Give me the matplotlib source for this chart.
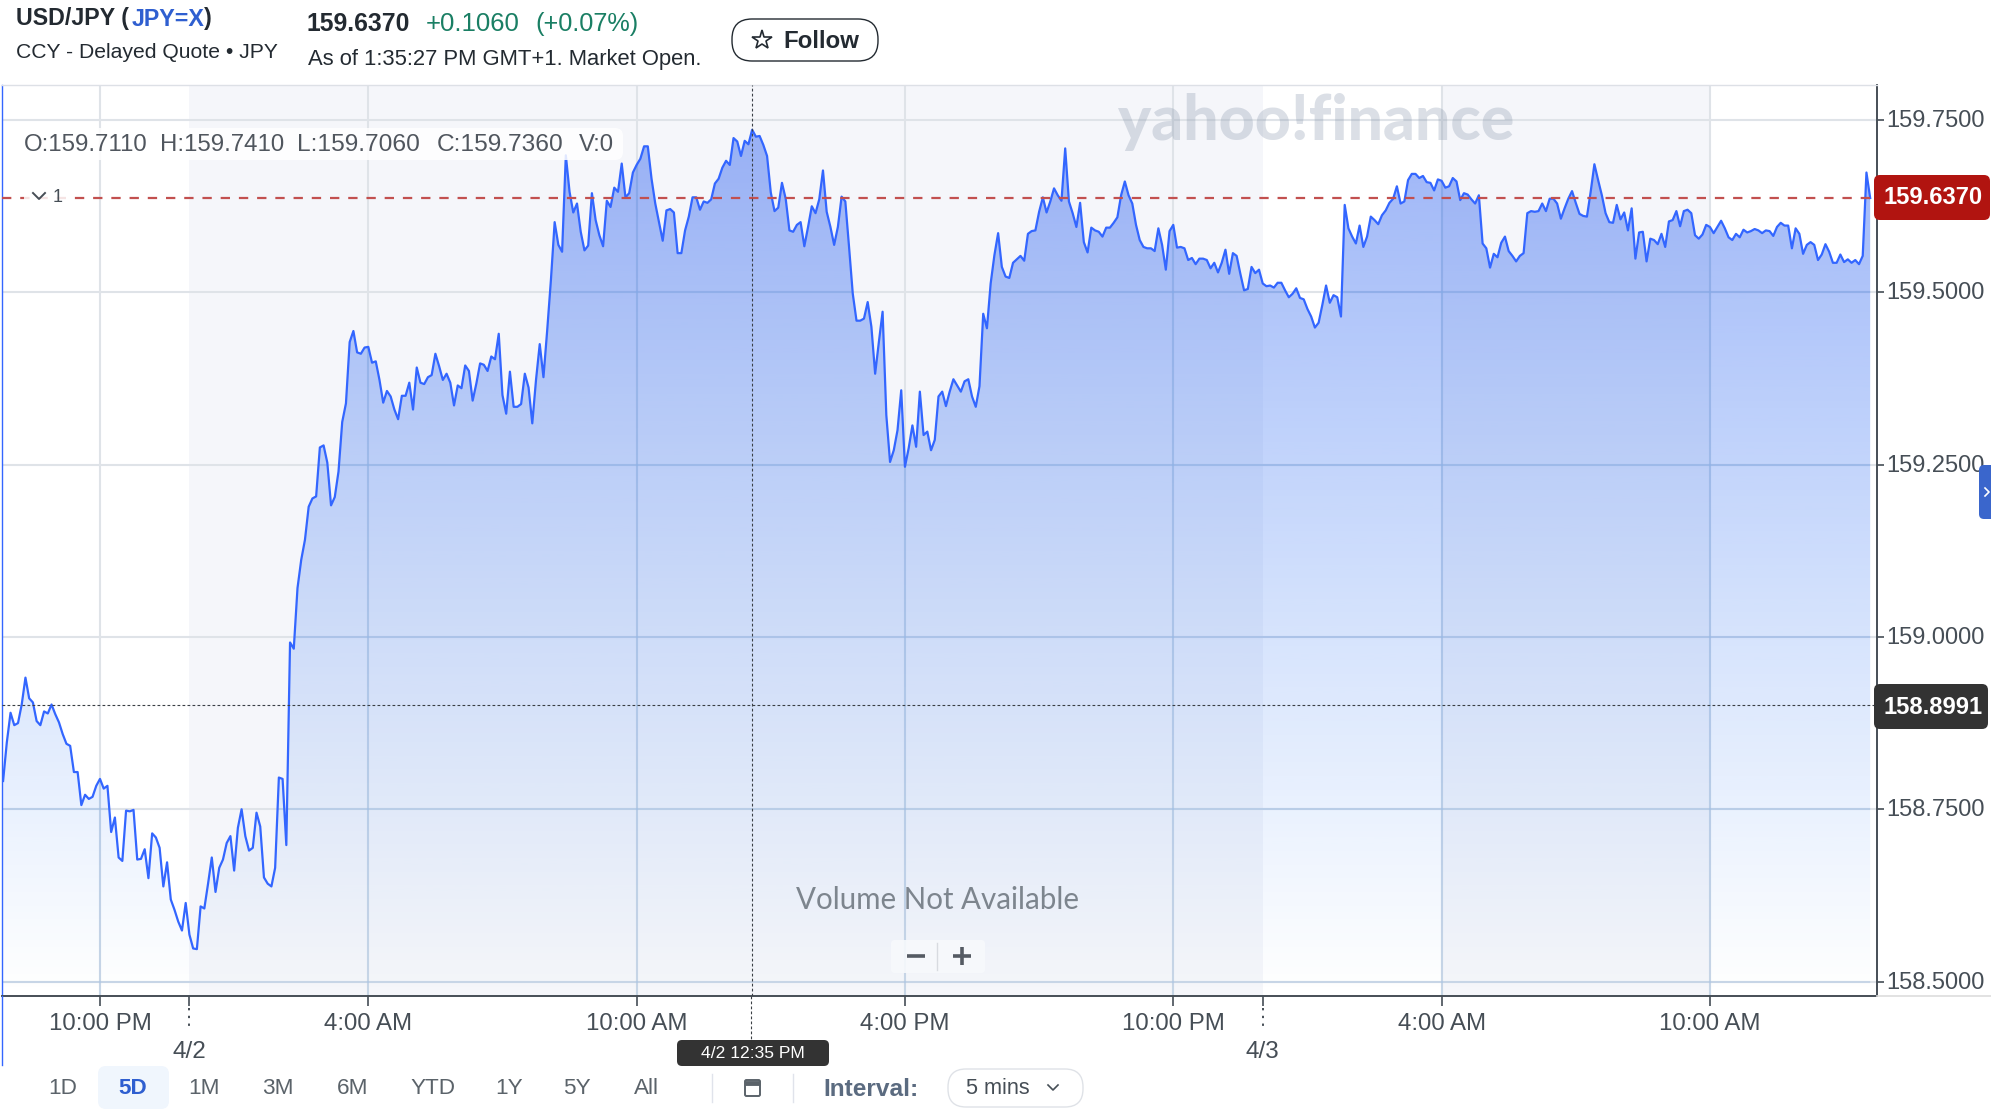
import numpy as np
import matplotlib
matplotlib.use("Agg")
import matplotlib.pyplot as plt
from matplotlib.patches import FancyBboxPatch
from matplotlib.transforms import ScaledTranslation

plt.rcParams["font.family"] = ["Liberation Sans", "DejaVu Sans"]

# --------------------------
# DATA (5 minute closes)
# --------------------------
close_apr1_evening = [
    158.791, 158.847, 158.890, 158.872, 158.875, 158.902, 158.941, 158.911, 158.905, 158.878,
    158.872, 158.892, 158.889, 158.902, 158.888, 158.876, 158.859, 158.845, 158.842, 158.804,
    158.804, 158.756, 158.771, 158.765, 158.768, 158.784, 158.794, 158.780, 158.784, 158.717,
    158.738, 158.680, 158.675, 158.748, 158.747, 158.749, 158.677, 158.678, 158.692, 158.650,
    158.715, 158.709, 158.694, 158.638, 158.673, 158.619, 158.604, 158.587, 158.574, 158.614,
    158.568, 158.548, 158.547, 158.609, 158.606, 158.642, 158.680, 158.630, 158.665, 158.677,
    158.701, 158.711, 158.661, 158.723, 158.750, 158.711, 158.690, 158.694, 158.745, 158.725,
    158.651, 158.642, 158.638, 158.665, 158.796, 158.794, 158.698,
]
close_apr2_rally = [
    158.992, 158.983, 159.071, 159.112, 159.141, 159.189, 159.201, 159.204, 159.275, 159.278,
    159.253, 159.191, 159.203, 159.240, 159.312, 159.339, 159.428, 159.444, 159.413, 159.411,
    159.420, 159.421, 159.398, 159.400, 159.373, 159.340, 159.357, 159.349, 159.330, 159.316,
    159.350, 159.350, 159.369,
]
close_apr2_day = [
    159.330, 159.391, 159.369, 159.367, 159.377, 159.380, 159.411, 159.393, 159.373, 159.382,
    159.369, 159.336, 159.365, 159.361, 159.394, 159.386, 159.343, 159.368, 159.397, 159.395,
    159.386, 159.407, 159.403, 159.440, 159.351, 159.324, 159.385, 159.334, 159.334, 159.338,
    159.382, 159.362, 159.310, 159.373, 159.425, 159.377, 159.445, 159.518, 159.602, 159.569,
    159.559, 159.699, 159.646, 159.616, 159.629, 159.588, 159.561, 159.568, 159.644, 159.605,
    159.583, 159.567, 159.633, 159.624, 159.652, 159.646, 159.687, 159.638, 159.644, 159.674,
    159.685, 159.694, 159.712, 159.712, 159.665, 159.629, 159.602, 159.575, 159.619, 159.621,
    159.616, 159.557, 159.557, 159.590, 159.610, 159.638, 159.638, 159.620, 159.632, 159.630,
    159.635, 159.658, 159.665, 159.681, 159.691, 159.685, 159.724, 159.719, 159.698, 159.720,
    159.715, 159.736, 159.726, 159.727, 159.714, 159.698, 159.645, 159.618, 159.623, 159.659,
    159.636, 159.590, 159.588, 159.598, 159.602, 159.567, 159.595, 159.625, 159.615, 159.635,
    159.677, 159.617, 159.595, 159.569, 159.595, 159.639, 159.632, 159.566, 159.498, 159.459,
    159.459, 159.462, 159.486, 159.450, 159.382, 159.428, 159.472, 159.322, 159.254, 159.271,
    159.300,
]
close_apr2_late = [
    159.358, 159.247, 159.274, 159.307, 159.276, 159.356, 159.293, 159.298, 159.271, 159.286,
    159.349, 159.356, 159.335, 159.356, 159.374, 159.365, 159.356, 159.371, 159.374, 159.349,
    159.334, 159.364, 159.469, 159.448, 159.513, 159.554, 159.586, 159.537, 159.523, 159.521,
    159.543, 159.548, 159.553, 159.546, 159.585, 159.589, 159.590, 159.617, 159.638, 159.616,
    159.632, 159.651, 159.641, 159.633, 159.709, 159.632, 159.615, 159.595, 159.630, 159.573,
    159.558, 159.594, 159.590, 159.588, 159.581, 159.594, 159.594, 159.601, 159.609, 159.641,
    159.661, 159.641, 159.629, 159.598, 159.576, 159.566, 159.564, 159.564, 159.560, 159.593,
    159.569, 159.533, 159.589, 159.598, 159.565, 159.566, 159.564, 159.547, 159.550, 159.541,
    159.549, 159.549, 159.547, 159.535, 159.543, 159.529, 159.543, 159.562, 159.527, 159.557,
    159.553, 159.527, 159.503, 159.505, 159.537, 159.528, 159.533, 159.513, 159.509, 159.510,
    159.507, 159.514, 159.514, 159.503, 159.493, 159.498, 159.506, 159.492, 159.490, 159.476,
    159.465, 159.449, 159.456, 159.482, 159.510, 159.485, 159.496, 159.493, 159.465,
]
close_apr3 = [
    159.627, 159.593, 159.581, 159.571, 159.597, 159.566, 159.581, 159.610, 159.605, 159.599,
    159.612, 159.619, 159.630, 159.636, 159.654, 159.629, 159.632, 159.663, 159.672, 159.672,
    159.666, 159.669, 159.660, 159.659, 159.648, 159.664, 159.662, 159.652, 159.654, 159.666,
    159.661, 159.634, 159.644, 159.642, 159.635, 159.629, 159.641, 159.571, 159.564, 159.536,
    159.556, 159.551, 159.572, 159.581, 159.560, 159.553, 159.545, 159.553, 159.557, 159.615,
    159.618, 159.617, 159.618, 159.629, 159.618, 159.636, 159.636, 159.629, 159.607, 159.622,
    159.636, 159.647, 159.630, 159.614, 159.611, 159.610, 159.646, 159.686, 159.663, 159.641,
    159.615, 159.602, 159.601, 159.627, 159.606, 159.616, 159.590, 159.622, 159.549, 159.587,
    159.588, 159.545, 159.578, 159.576, 159.570, 159.585, 159.566, 159.603, 159.605, 159.618,
    159.596, 159.618, 159.620, 159.615, 159.583, 159.578, 159.584, 159.598, 159.595, 159.586,
    159.595, 159.604, 159.593, 159.580, 159.576, 159.585, 159.580, 159.591, 159.587, 159.589,
    159.592, 159.590, 159.586, 159.590, 159.589, 159.582, 159.595, 159.601, 159.597, 159.597,
    159.564, 159.593, 159.585, 159.556, 159.569, 159.573, 159.569, 159.547, 159.555, 159.570,
    159.559, 159.543, 159.543, 159.555, 159.544, 159.548, 159.543, 159.547, 159.541, 159.553,
    159.674, 159.637,
]

closes = np.array(close_apr1_evening + close_apr2_rally + close_apr2_day + close_apr2_late + close_apr3)
hours = (np.arange(len(closes)) - 26) / 12  # hours after 10 PM on 4/1

y_ticks = [158.5, 158.75, 159.0, 159.25, 159.5, 159.75]
x_ticks = [0, 6, 12, 18, 24, 30, 36]
x_labels = ["10:00 PM", "4:00 AM", "10:00 AM", "4:00 PM", "10:00 PM", "4:00 AM", "10:00 AM"]
day_ticks = [2, 26]
day_labels = ["4/2", "4/3"]
closed_bands = [(2, 26), (30, 36)]
last_price = 159.637
cursor_price = 158.902
cursor_hour = 175 / 12
range_labels = ["1D", "5D", "1M", "3M", "6M", "YTD", "1Y", "5Y", "All"]

W, H = 1991, 1112
GREY = "#464e56"
BLUE = "#3366ff"

fig = plt.figure(figsize=(W / 100, H / 100), dpi=100, facecolor="white")

# --------------------------
# PRICE CHART
# --------------------------
ax = fig.add_axes([2 / W, 1 - 996 / H, 1875 / W, 911 / H])
ax.set_xlim(-2.191, 39.736)
ax.set_ylim(158.479, 159.801)
ax.set_facecolor("white")

for start, end in closed_bands:
    ax.axvspan(start, end, color="#f5f6fa", lw=0, zorder=0)

ax.set_xticks(x_ticks, labels=x_labels)
ax.set_xticks(day_ticks, labels=day_labels, minor=True)
ax.set_yticks(y_ticks, labels=[f"{v:.4f}" for v in y_ticks])
ax.yaxis.tick_right()
ax.grid(True, which="major", color="#dfe3e8", lw=1.5, zorder=1)
ax.set_axisbelow(True)
ax.tick_params(axis="x", which="major", length=7.2, width=1.2, color=GREY, labelsize=17.3, labelcolor=GREY, pad=5.2)
ax.tick_params(axis="x", which="minor", length=7.2, width=1.2, color=GREY, labelsize=17.5, labelcolor=GREY, pad=25.5)
ax.tick_params(axis="y", length=5, width=1.2, color=GREY, labelsize=17, labelcolor=GREY, pad=2)
lift = ScaledTranslation(0, 1.5 / 100, fig.dpi_scale_trans)
for lbl in ax.get_yticklabels():
    lbl.set_transform(lbl.get_transform() + lift)

for side, col, lw in [("bottom", GREY, 1.4), ("right", GREY, 1.4), ("left", BLUE, 1.0), ("top", "#dde0e6", 1.0)]:
    ax.spines[side].set_color(col)
    ax.spines[side].set_linewidth(lw)

# gradient area under the line, hue drifts lighter towards the bottom
ymin = ax.get_ylim()[0]
area = ax.fill_between(hours, closes, ymin, facecolor="none", lw=0)
area_path = area.get_paths()[0]
rgba = np.zeros((256, 1, 4))
rgba[:, 0, 0] = 58 / 255
rgba[:, 0, 1] = np.linspace(105, 135, 256) / 255
rgba[:, 0, 2] = np.linspace(240, 250, 256) / 255
rgba[:, 0, 3] = np.linspace(0.5, 0.0, 256)
grad = ax.imshow(rgba, extent=[hours[0], hours[-1], ymin, 159.745], aspect="auto", zorder=2, interpolation="bilinear")
grad.set_clip_path(area_path, transform=ax.transData)
ax.set_xlim(-2.191, 39.736)
ax.set_ylim(158.479, 159.801)

# grid shows through the area as a stronger blue
for t in x_ticks:
    ax.axvline(t, color="#5f9be0", lw=1.5, alpha=0.18, zorder=2.5).set_clip_path(area_path, transform=ax.transData)
for v in y_ticks:
    ax.axhline(v, color="#5f9be0", lw=1.5, alpha=0.18, zorder=2.5).set_clip_path(area_path, transform=ax.transData)

ax.plot(hours, closes, color=BLUE, lw=1.6, zorder=3)
ax.axhline(last_price, xmax=0.9963, color="#c2504f", lw=1.6, dashes=(4.2, 4.0), zorder=4)
ax.axhline(cursor_price, color="#3a3f45", lw=0.8, dashes=(2.5, 2), zorder=4)
ax.axvline(cursor_hour, color="#3a3f45", lw=0.8, dashes=(2.5, 2), zorder=4)

# --------------------------
# PAGE FURNITURE (pixel coordinates)
# --------------------------
ui = fig.add_axes([0, 0, 1, 1], facecolor="none")
ui.set_xlim(0, W)
ui.set_ylim(H, 0)
ui.axis("off")


def px(size):
    return size * 0.72


def label(x, y, s, size=22, color=GREY, ha="left", **kw):
    return ui.text(x, y, s, fontsize=px(size), color=color, ha=ha, va="center", **kw)


def box(x0, y0, x1, y1, face, edge="none", r=8, lw=1.0, zorder=5, alpha=None):
    ui.add_patch(FancyBboxPatch((x0, y0), x1 - x0, y1 - y0, boxstyle=f"round,pad=0,rounding_size={r}",
                                fc=face, ec=edge, lw=lw, zorder=zorder, alpha=alpha))


# header
label(16, 19, "USD/JPY (", 23.3, "#232a31", weight="bold")
label(132, 19, "JPY=X", 23.3, "#2f5fd0", weight="bold")
label(204, 19, ")", 23.3, "#232a31", weight="bold")
label(16, 53, "CCY - Delayed Quote • JPY", 21.2, "#232a31")
label(307, 24, "159.6370", 24.8, "#232a31", weight="bold")
label(426, 24, "+0.1060", 25.8, "#1a7f64")
label(535, 24, "(+0.07%)", 25.2, "#1a7f64")
label(308, 60, "As of 1:35:27 PM GMT+1. Market Open.", 22, "#232a31")
box(732, 19, 878, 61, "white", "#232a31", r=20, lw=1.0)
ui.plot([762], [40], marker="*", ms=15, mfc="none", mec="#232a31", mew=1.2, zorder=6)
label(783, 41, "Follow", 24, "#232a31", weight="bold", zorder=6)

# watermark
label(1118, 122, "yahoo!finance", 62.5, "#7f8ea6", weight="black", family="Lato", alpha=0.28, zorder=5)

# OHLC readout
box(6, 128, 623, 160, "white", r=8, alpha=0.85)
for x, s in [(24, "O:159.7110"), (160, "H:159.7410"), (297, "L:159.7060"), (437, "C:159.7360"), (579, "V:0")]:
    label(x, 145, s, 24.5 if s[0] in "LC" else 24, "#50565e", zorder=6)
box(24, 188, 66, 206, "white", r=3, alpha=0.85)
ui.plot([33, 39, 45], [193, 199, 193], color=GREY, lw=1.4, zorder=6)
label(53, 197, "1", 18, GREY, zorder=6)

# price flags and side tab
box(1874, 175, 1990, 220, "#b11410", r=6)
label(1933, 198, "159.6370", 23.8, "white", ha="center", weight="bold", zorder=6)
box(1874, 684, 1988, 729, "#333333", r=6)
label(1933, 708, "158.8991", 23.8, "white", ha="center", weight="bold", zorder=6)
box(1979, 465, 2000, 519, "#3a66cc", r=5)
ui.plot([1985, 1989, 1985], [488, 492, 496], color="white", lw=1.2, zorder=6)

# x axis bits
ui.plot([1877, W], [996, 996], color="#dddddd", lw=1.2)
for h in day_ticks:
    ui.plot([100 + 44.72 * h] * 2, [1008, 1029], color=GREY, lw=1.4, dashes=(1.2, 2.8))
ui.plot([2, 2], [996, 1065], color=BLUE, lw=1.0)
ui.plot([751, 751], [996, 1040], color="#3a3f45", lw=0.8, dashes=(2.5, 2))
box(677, 1040, 829, 1066, "#333333", r=5)
label(753, 1054, "4/2 12:35 PM", 17.5, "white", ha="center", zorder=6)

# volume note and zoom buttons
label(938, 900, "Volume Not Available", 29.5, "#7d858e", ha="center", family="Lato", zorder=5)
box(891, 940, 985, 973, "#f7f9fc", r=4, alpha=0.9)
ui.plot([937, 937], [943, 970], color="#d8dbe0", lw=1, zorder=6)
ui.plot([907, 925], [956, 956], color="#555b63", lw=2.6, zorder=6, solid_capstyle="butt")
ui.plot([953, 971], [956, 956], color="#555b63", lw=2.6, zorder=6, solid_capstyle="butt")
ui.plot([962, 962], [947, 965], color="#555b63", lw=2.6, zorder=6, solid_capstyle="butt")

# range selector
box(98, 1066, 169, 1109, "#f0f6fd", r=8, zorder=1)
range_x = [63, 133, 204, 278, 353, 433, 509, 577, 646]
for x, s in zip(range_x, range_labels):
    label(x, 1089, s, 22.5, "#2f5fd0" if s == "5D" else "#5b636a", ha="center",
          weight="bold" if s == "5D" else "normal", zorder=6)
ui.plot([712, 712], [1074, 1102], color="#e0e3eb", lw=1)
ui.plot([793, 793], [1074, 1102], color="#e0e3eb", lw=1)
box(745, 1080, 760, 1096, "white", "#5b636a", r=1.5, lw=1.4)
ui.plot([745, 760], [1083, 1083], color="#5b636a", lw=3.5, solid_capstyle="butt", zorder=6)
label(823, 1089, "Interval:", 24.5, "#5b6b80", weight="bold")
box(948, 1069, 1083, 1107, "white", "#dfe2e7", r=18)
label(966, 1089, "5 mins", 21.8, "#464e56", zorder=6)
ui.plot([1048, 1053, 1058], [1085, 1090, 1085], color=GREY, lw=1.2, zorder=6)

fig.savefig("out.png", dpi=100)
